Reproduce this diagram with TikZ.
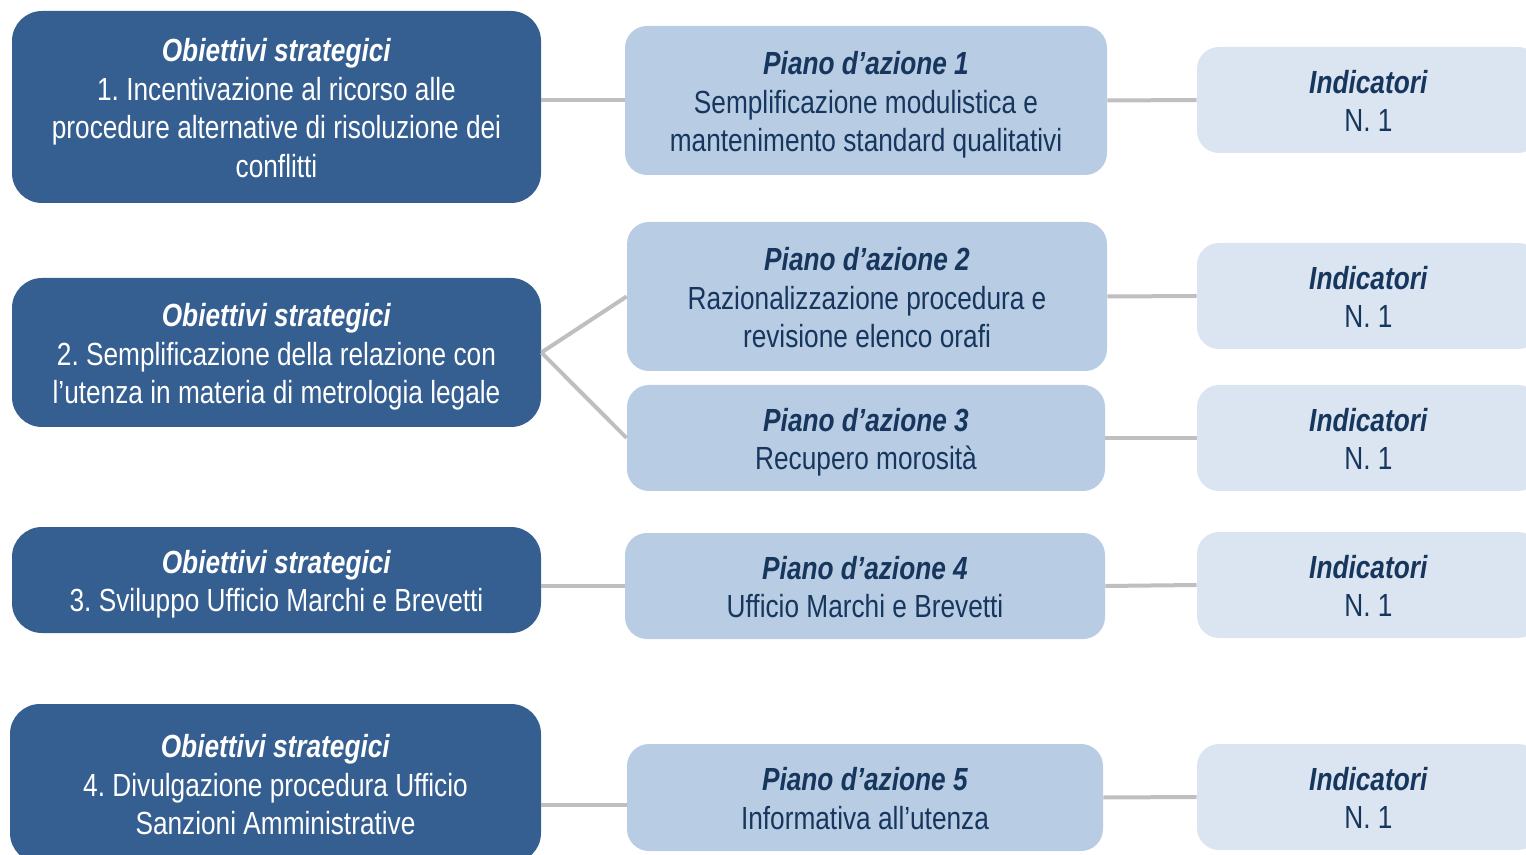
\documentclass[tikz,border=0pt]{standalone}
\usepackage{fontspec}
\setmainfont{Liberation Sans}[FakeStretch=0.82]
\usepackage{tikz}
\frenchspacing

\definecolor{scuro}{HTML}{365F91}
\definecolor{chiaro}{HTML}{B8CCE4}
\definecolor{tenue}{HTML}{DBE5F1}
\definecolor{testo}{HTML}{17365D}
\definecolor{grigio}{HTML}{BFBFBF}

\newcommand{\titolo}[1]{\rule{0pt}{16pt}\textbf{\textit{#1}}}

\begin{document}
\begin{tikzpicture}[x=0.5pt, y=-0.5pt,
    box/.style={align=center, inner sep=0pt, font=\fontsize{16}{19.25}\selectfont,
        execute at end node={\rule[-3.4pt]{0pt}{0pt}}},
    obiettivo/.style={box, fill=scuro, text=white, minimum width=264.5pt, rounded corners=15pt},
    piano/.style={box, fill=chiaro, text=testo, minimum width=240pt, minimum height=53pt, rounded corners=11pt},
    indicatore/.style={box, fill=tenue, text=testo, minimum width=171.5pt, minimum height=53pt, rounded corners=11pt},
    link/.style={draw=grigio, line width=2pt}]

    \useasboundingbox (0,0) rectangle (1526,855);
    \clip (0,0) rectangle (1526,855);

    % obiettivi strategici
    \node[obiettivo, minimum height=96pt] (o1) at (276.5,107)
        {\titolo{Obiettivi strategici}\\1. Incentivazione al ricorso alle\\procedure alternative di risoluzione dei\\conflitti};
    \node[obiettivo, minimum height=74.5pt] (o2) at (276.5,352.5)
        {\titolo{Obiettivi strategici}\\2. Semplificazione della relazione con\\l’utenza in materia di metrologia legale};
    \node[obiettivo, minimum height=53pt] (o3) at (276.5,580)
        {\titolo{Obiettivi strategici}\\3. Sviluppo Ufficio Marchi e Brevetti};
    \node[obiettivo, minimum width=265.5pt, minimum height=79.5pt] (o4) at (275.5,783.5)
        {\titolo{Obiettivi strategici}\\4. Divulgazione procedura Ufficio\\Sanzioni Amministrative};

    % piani d'azione
    \node[piano, minimum width=241pt, minimum height=74.5pt] (p1) at (866,100.5)
        {\titolo{Piano d’azione 1}\\Semplificazione modulistica e\\mantenimento standard qualitativi};
    \node[piano, minimum height=74.5pt] (p2) at (867,296.5)
        {\titolo{Piano d’azione 2}\\Razionalizzazione procedura e\\revisione elenco orafi};
    \node[piano, minimum width=239pt] (p3) at (866,438)
        {\titolo{Piano d’azione 3}\\Recupero morosità};
    \node[piano] (p4) at (865,586)
        {\titolo{Piano d’azione 4}\\Ufficio Marchi e Brevetti};
    \node[piano, minimum width=238pt, minimum height=53.5pt] (p5) at (865,797.5)
        {\titolo{Piano d’azione 5}\\Informativa all’utenza};

    % indicatori
    \foreach \i/\y in {1/100, 2/296, 3/438, 4/585, 5/797}
        \node[indicatore] (i\i) at (1368.5,\y) {\titolo{Indicatori}\\N. 1};

    % collegamenti
    \draw[link] (o1.east |- p1.west) -- (p1.west);
    \draw[link] (o2.east) -- (p2.west);
    \draw[link] (o2.east) -- (p3.west);
    \draw[link] (o3.east |- p4.west) -- (p4.west);
    \draw[link] ([yshift=-3.5pt]o4.east |- p5.west) -- ([yshift=-3.5pt]p5.west);
    \foreach \i in {1,...,5}
        \draw[link] (p\i.east) -- (i\i.west);
\end{tikzpicture}
\end{document}
